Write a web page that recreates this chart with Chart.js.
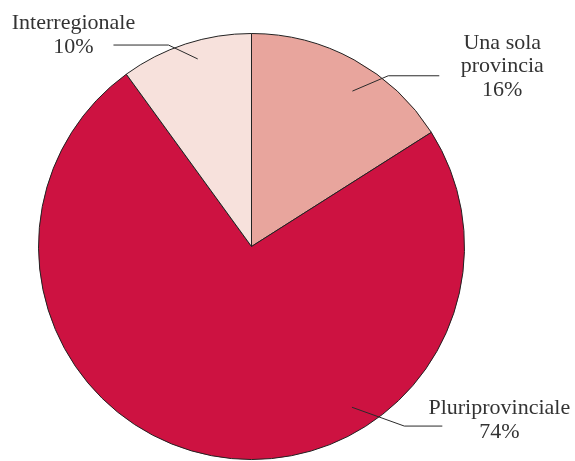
<!DOCTYPE html>
<html>
<head>
<meta charset="utf-8">
<script src="https://cdn.jsdelivr.net/npm/chart.js@4"></script>
<style>
  html, body { margin: 0; padding: 0; background: #fff; }
  #wrap { width: 575px; height: 461px; }
</style>
</head>
<body>
<div id="wrap"><canvas id="myChart" width="575" height="461"></canvas></div>
<script>
// torta: ambito territoriale
var categories = ["Una sola provincia", "Pluriprovinciale", "Interregionale"];
var values = [16, 74, 10];
var valueLabels = ["16%", "74%", "10%"];
var labelLines = [["Una sola", "provincia"], ["Pluriprovinciale"], ["Interregionale"]];

var colors = ["#e8a59d", "#cd1241", "#f7e1dc"];

// leader lines: angles clockwise from top (deg), radius as fraction of R
// textDy = baseline of first text line relative to the horizontal line
var leaders = [
  { inA: 33, inR: 0.87, elA: 38.7, elR: 1.027, endDx: 51, textDx: 63, textDy: -27 },
  { inA: 148, inR: 0.89, elA: 139.6, elR: 1.107, endDx: 38, textDx: 57, textDy: -12 },
  { inA: 344, inR: 0.916, elA: 337.6, elR: 1.023, endDx: -55, textDx: -40, textDy: -16 }
];

var leaderPlugin = {
  id: "leaderLabels",
  afterDraw: function(chart){
    var ctx = chart.ctx;
    var meta = chart.getDatasetMeta(0);
    ctx.save();
    meta.data.forEach(function(arc, i){
      var p = arc.getProps(["x", "y", "outerRadius"], true);
      var L = leaders[i];
      function pt(a, r){
        var rad = a * Math.PI / 180;
        return { x: p.x + Math.sin(rad) * r * p.outerRadius, y: p.y - Math.cos(rad) * r * p.outerRadius };
      }
      var a = pt(L.inA, L.inR);
      var b = pt(L.elA, L.elR);
      var c = { x: b.x + L.endDx, y: b.y };
      ctx.strokeStyle = "#2a2a2a";
      ctx.lineWidth = 1;
      ctx.beginPath();
      ctx.moveTo(a.x, a.y);
      ctx.lineTo(b.x, b.y);
      ctx.lineTo(c.x, c.y);
      ctx.stroke();

      var lines = labelLines[i].concat([valueLabels[i]]);
      ctx.fillStyle = "#333";
      ctx.font = "22px 'Liberation Serif', serif";
      ctx.textAlign = "center";
      ctx.textBaseline = "alphabetic";
      var tx = c.x + L.textDx;
      var ty = c.y + L.textDy;
      lines.forEach(function(t, k){
        ctx.fillText(t, tx, ty + k * 23.5);
      });
    });
    ctx.restore();
  }
};

var ctx = document.getElementById("myChart");
var myChart = new Chart(ctx, {
  type: "pie",
  data: {
    labels: categories,
    datasets: [{
      data: values,
      backgroundColor: colors,
      borderColor: "#222",
      borderWidth: 1
    }]
  },
  options: {
    responsive: false,
    animation: false,
    radius: 213,
    layout: { padding: { left: 0, right: 72, top: 32, bottom: 0 } },
    plugins: {
      legend: { display: false },
      tooltip: { enabled: false }
    }
  },
  plugins: [leaderPlugin]
});
</script>
</body>
</html>
